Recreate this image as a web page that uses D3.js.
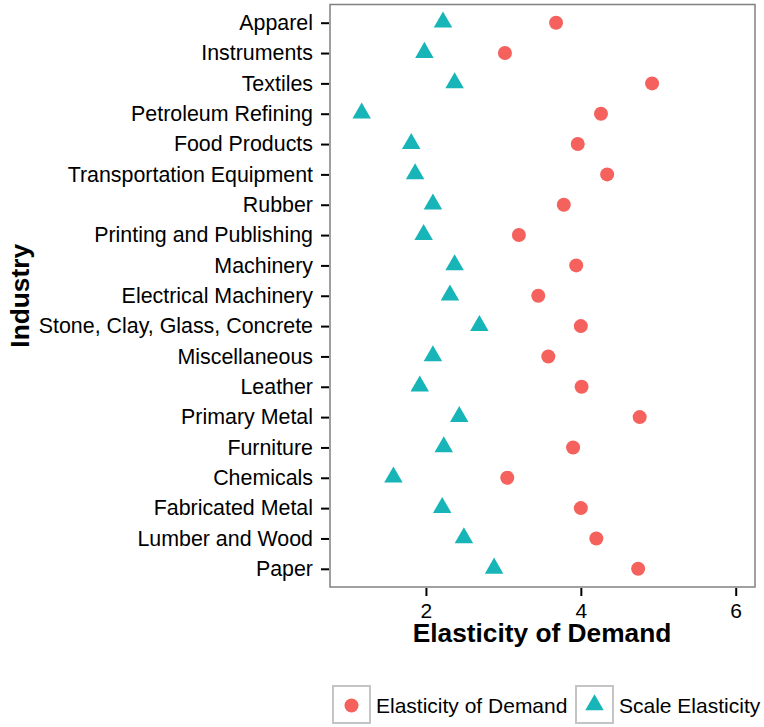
<!DOCTYPE html>
<html>
<head>
<meta charset="utf-8">
<script src="https://cdn.jsdelivr.net/npm/d3@7"></script>
<style>
  html, body { margin: 0; padding: 0; background: #fff; }
  svg { display: block; font-family: "Liberation Sans", Arial, Helvetica, sans-serif; }
</style>
</head>
<body>
<svg id="chart" width="764" height="727"></svg>
<script>
const industries = ["Apparel", "Instruments", "Textiles", "Petroleum Refining", "Food Products",
  "Transportation Equipment", "Rubber", "Printing and Publishing", "Machinery", "Electrical Machinery",
  "Stone, Clay, Glass, Concrete", "Miscellaneous", "Leather", "Primary Metal", "Furniture",
  "Chemicals", "Fabricated Metal", "Lumber and Wood", "Paper"];
const demandElasticity = [3.68, 3.02, 4.92, 4.26, 3.96, 4.34, 3.78, 3.20, 3.94, 3.45,
  4.00, 3.58, 4.01, 4.76, 3.90, 3.05, 4.00, 4.20, 4.74];
const scaleElasticity = [2.22, 1.98, 2.37, 1.17, 1.81, 1.86, 2.09, 1.97, 2.37, 2.31,
  2.69, 2.09, 1.92, 2.43, 2.23, 1.58, 2.21, 2.49, 2.88];
const xTicks = [2, 4, 6];
const seriesNames = ["Elasticity of Demand", "Scale Elasticity"];
const seriesColors = ["#F5615C", "#17B4B8"];

const svg = d3.select("#chart");
const panel = { left: 330, right: 755, top: 4.5, bottom: 587 };

const x = d3.scaleLinear().domain([0.761, 6.249]).range([panel.left, panel.right]);
const y = d3.scalePoint().domain(industries).range([panel.top, panel.bottom]).padding(0.6);

// panel background + border
svg.append("rect")
  .attr("x", panel.left).attr("y", panel.top)
  .attr("width", panel.right - panel.left).attr("height", panel.bottom - panel.top)
  .attr("fill", "#fff").attr("stroke", "#808080").attr("stroke-width", 1.5);

// y axis
const yAxis = svg.append("g")
  .attr("transform", `translate(${panel.left - 1},0)`)
  .call(d3.axisLeft(y).tickSize(8).tickPadding(8));
yAxis.select(".domain").remove();
yAxis.selectAll(".tick line").attr("stroke", "#000").attr("stroke-width", 2);
yAxis.selectAll(".tick text").attr("fill", "#000").attr("font-size", 21.4)
  .attr("font-family", "'Liberation Sans', Arial, Helvetica, sans-serif");

// x axis
const xAxis = svg.append("g")
  .attr("transform", `translate(0,${panel.bottom + 1})`)
  .call(d3.axisBottom(x).tickValues(xTicks).tickFormat(d3.format("d")).tickSize(8).tickPadding(7));
xAxis.select(".domain").remove();
xAxis.selectAll(".tick line").attr("stroke", "#000").attr("stroke-width", 2);
xAxis.selectAll(".tick text").attr("fill", "#000").attr("font-size", 21)
  .attr("font-family", "'Liberation Sans', Arial, Helvetica, sans-serif");

// axis titles
svg.append("text")
  .attr("x", (panel.left + panel.right) / 2 - 0.5).attr("y", 642)
  .attr("text-anchor", "middle").attr("font-size", 26.3).attr("font-weight", "bold")
  .text("Elasticity of Demand");
svg.append("text")
  .attr("transform", `translate(29,${(panel.top + panel.bottom) / 2}) rotate(-90)`)
  .attr("text-anchor", "middle").attr("font-size", 26.3).attr("font-weight", "bold")
  .text("Industry");

const triSym = d3.symbol().type(d3.symbolTriangle).size(148);

// points
const plot = svg.append("g");
plot.selectAll("path.scale")
  .data(industries)
  .join("path").attr("class", "scale")
  .attr("d", triSym)
  .attr("transform", (d, i) => `translate(${x(scaleElasticity[i])},${y(d) - 0.5})`)
  .attr("fill", seriesColors[1]);
plot.selectAll("circle.demand")
  .data(industries)
  .join("circle").attr("class", "demand")
  .attr("cx", (d, i) => x(demandElasticity[i]))
  .attr("cy", d => y(d))
  .attr("r", 7)
  .attr("fill", seriesColors[0]);

// legend
const legend = svg.append("g");
const keys = [
  { name: seriesNames[0], color: seriesColors[0], shape: "circle", x: 333 },
  { name: seriesNames[1], color: seriesColors[1], shape: "triangle", x: 576 }
];
keys.forEach(k => {
  const g = legend.append("g").attr("transform", `translate(${k.x},686)`);
  g.append("rect").attr("x", 0).attr("y", 0).attr("width", 37).attr("height", 37)
    .attr("fill", "#fff").attr("stroke", "#c4c4c4").attr("stroke-width", 2);
  if (k.shape === "circle") {
    g.append("circle").attr("cx", 18.5).attr("cy", 19.5).attr("r", 7).attr("fill", k.color);
  } else {
    g.append("path").attr("d", triSym).attr("transform", "translate(18.5,19)").attr("fill", k.color);
  }
  g.append("text").attr("x", 43).attr("y", 19.5).attr("dy", "0.35em")
    .attr("font-size", 21).attr("fill", "#000").text(k.name);
});
</script>
</body>
</html>
